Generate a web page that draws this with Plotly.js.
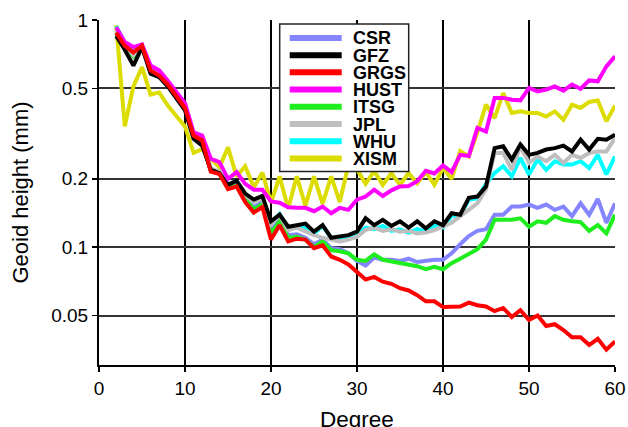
<!DOCTYPE html>
<html>
<head>
<meta charset="utf-8">
<script src="https://cdn.plot.ly/plotly-3.0.1.min.js"></script>
<style>html,body{margin:0;padding:0;background:#fff;}#chart{width:628px;height:427px;}</style>
</head>
<body>
<div id="chart"></div>
<script>
const degrees = [2,3,4,5,6,7,8,9,10,11,12,13,14,15,16,17,18,19,20,21,22,23,24,25,26,27,28,29,30,31,32,33,34,35,36,37,38,39,40,41,42,43,44,45,46,47,48,49,50,51,52,53,54,55,56,57,58,59,60];

const CSR  = [0.87,0.77,0.70,0.77,0.61,0.58,0.53,0.47,0.42,0.31,0.29,0.218,0.213,0.186,0.19,0.166,0.15,0.158,0.118,0.133,0.113,0.114,0.110,0.103,0.108,0.099,0.098,0.094,0.087,0.083,0.090,0.088,0.088,0.087,0.089,0.086,0.087,0.088,0.088,0.094,0.103,0.112,0.118,0.120,0.139,0.139,0.151,0.151,0.154,0.149,0.154,0.146,0.151,0.137,0.156,0.139,0.163,0.128,0.156];
const GFZ  = [0.85,0.74,0.63,0.76,0.58,0.56,0.51,0.455,0.40,0.30,0.28,0.219,0.212,0.188,0.196,0.172,0.162,0.168,0.130,0.139,0.123,0.125,0.127,0.117,0.125,0.110,0.111,0.113,0.117,0.134,0.125,0.132,0.124,0.130,0.122,0.130,0.121,0.130,0.125,0.141,0.139,0.165,0.167,0.185,0.273,0.278,0.243,0.283,0.255,0.26,0.269,0.273,0.28,0.264,0.297,0.269,0.30,0.297,0.313];
const GRGS = [0.88,0.77,0.72,0.77,0.60,0.57,0.52,0.46,0.41,0.31,0.295,0.215,0.21,0.18,0.185,0.158,0.142,0.150,0.108,0.125,0.106,0.109,0.108,0.099,0.102,0.091,0.088,0.084,0.078,0.072,0.074,0.0705,0.069,0.066,0.0645,0.0615,0.0578,0.0578,0.0545,0.0548,0.0548,0.057,0.0555,0.0548,0.0523,0.054,0.0493,0.0528,0.0478,0.050,0.045,0.0458,0.0432,0.0401,0.0401,0.0371,0.0395,0.0354,0.0385];
const HUST = [0.93,0.80,0.76,0.78,0.63,0.60,0.54,0.48,0.43,0.32,0.31,0.245,0.237,0.20,0.214,0.19,0.179,0.179,0.159,0.157,0.150,0.149,0.149,0.144,0.151,0.141,0.149,0.146,0.162,0.167,0.179,0.168,0.178,0.185,0.186,0.195,0.217,0.211,0.229,0.214,0.255,0.252,0.335,0.323,0.454,0.454,0.446,0.443,0.502,0.485,0.494,0.51,0.489,0.52,0.498,0.542,0.537,0.625,0.692];
const ITSG = [0.87,0.76,0.69,0.76,0.61,0.575,0.525,0.465,0.415,0.305,0.29,0.216,0.211,0.183,0.189,0.163,0.147,0.155,0.115,0.130,0.110,0.111,0.108,0.100,0.106,0.097,0.096,0.094,0.088,0.087,0.093,0.088,0.0866,0.085,0.0845,0.0825,0.080,0.082,0.080,0.085,0.089,0.093,0.098,0.108,0.132,0.132,0.132,0.134,0.123,0.130,0.128,0.137,0.132,0.130,0.129,0.118,0.125,0.115,0.139];
const JPL  = [0.90,0.78,0.70,0.77,0.61,0.58,0.53,0.47,0.415,0.31,0.29,0.222,0.215,0.19,0.195,0.17,0.158,0.163,0.126,0.138,0.119,0.122,0.117,0.113,0.110,0.108,0.106,0.108,0.111,0.119,0.122,0.118,0.120,0.117,0.118,0.115,0.116,0.119,0.123,0.128,0.137,0.146,0.156,0.180,0.26,0.26,0.219,0.278,0.235,0.251,0.239,0.255,0.235,0.255,0.247,0.26,0.264,0.264,0.302];
const WHU  = [0.94,0.79,0.72,0.77,0.61,0.58,0.53,0.47,0.42,0.31,0.29,0.22,0.214,0.19,0.195,0.17,0.16,0.166,0.128,0.140,0.121,0.124,0.122,0.115,0.124,0.110,0.109,0.110,0.113,0.122,0.120,0.124,0.118,0.120,0.116,0.120,0.117,0.124,0.122,0.137,0.138,0.162,0.164,0.19,0.212,0.227,0.205,0.247,0.209,0.243,0.219,0.239,0.231,0.231,0.239,0.223,0.255,0.209,0.251];
const XISM = [0.95,0.34,0.51,0.62,0.47,0.48,0.42,0.38,0.34,0.26,0.27,0.245,0.225,0.275,0.205,0.227,0.183,0.213,0.157,0.205,0.148,0.205,0.152,0.205,0.155,0.205,0.158,0.23,0.22,0.19,0.216,0.188,0.212,0.188,0.212,0.191,0.214,0.188,0.223,0.20,0.265,0.251,0.32,0.424,0.370,0.477,0.39,0.396,0.39,0.39,0.376,0.396,0.364,0.424,0.41,0.436,0.442,0.358,0.42];

const seriesNames  = ["CSR","GFZ","GRGS","HUST","ITSG","JPL","WHU","XISM"];
const seriesValues = {CSR, GFZ, GRGS, HUST, ITSG, JPL, WHU, XISM};
const seriesColors = {CSR:"#8585ff", GFZ:"#000000", GRGS:"#ff0000", HUST:"#ff00ff", ITSG:"#1eee1e", JPL:"#bebebe", WHU:"#00ffff", XISM:"#dcdc00"};
const drawOrder = ["XISM","CSR","ITSG","WHU","JPL","GFZ","HUST","GRGS"];

const xTicks = [0,10,20,30,40,50,60];
const yTicks = [0.05,0.1,0.2,0.5,1];
const yTickText = ["0.05","0.1","0.2","0.5","1"];
const xTitle = "Degree";
const yTitle = "Geoid height (mm)";

const traces = drawOrder.map(n => ({
  type: "scatter", mode: "lines", name: n,
  x: degrees, y: seriesValues[n],
  line: {color: seriesColors[n], width: 4},
  showlegend: false, hoverinfo: "skip"
}));

// manual legend (box, line samples, labels), in paper coordinates
const plotL = 99.3, plotR = 615.3, plotT = 20.4, plotB = 365;
const px = v => (v - plotL) / (plotR - plotL);
const py = v => (plotB - v) / (plotB - plotT);
const shapes = [{type:"rect", xref:"paper", yref:"paper", x0:px(280), x1:px(409), y0:py(171.7), y1:py(24.3),
  line:{color:"#222", width:1.5}, fillcolor:"#ffffff", layer:"above"}];
const annotations = [];
seriesNames.forEach((n,i) => {
  const yy = 38.3 + 17.2*i;
  shapes.push({type:"line", xref:"paper", yref:"paper", x0:px(290), x1:px(342), y0:py(yy), y1:py(yy),
    line:{color:seriesColors[n], width:6}, layer:"above"});
  annotations.push({xref:"paper", yref:"paper", x:px(351), y:py(yy+0.5), xanchor:"left", yanchor:"middle",
    height:16, valign:"middle",
    text:"<b>"+n+"</b>", showarrow:false, font:{family:"Liberation Sans, Arial, sans-serif", size:18, color:"#000"}});
});
// x-axis title placed like the reference (its lower edge touches the canvas edge)
annotations.push({xref:"paper", yref:"paper", x:0.5, y:py(405), xanchor:"center", yanchor:"top",
  text:xTitle, showarrow:false, font:{family:"Liberation Sans, Arial, sans-serif", size:22.5, color:"#000"}});

const layout = {
  width: 628, height: 427,
  margin: {l: 99.3, r: 12.7, t: 20.4, b: 62},
  paper_bgcolor: "#fff", plot_bgcolor: "#fff",
  font: {family: "Liberation Sans, Arial, sans-serif", color: "#000", size: 19},
  showlegend: false,
  xaxis: {
    range: [0, 60], tickvals: xTicks, ticks: "outside", ticklen: 5, tickwidth: 1.5, tickcolor: "#000",
    showgrid: true, gridcolor: "#000", gridwidth: 1.2, zeroline: false,
    showline: true, linecolor: "#000", linewidth: 2,
    tickfont: {size: 19}
  },
  yaxis: {
    type: "log", range: [Math.log10(0.0303), 0], tickvals: yTicks, ticktext: yTickText,
    ticks: "outside", ticklen: 5, tickwidth: 1.5, tickcolor: "#000",
    showgrid: true, gridcolor: "#333", gridwidth: 2, zeroline: false,
    showline: true, linecolor: "#000", linewidth: 2,
    tickfont: {size: 19},
    title: {text: yTitle, font: {size: 22}, standoff: 17}
  },
  shapes, annotations
};

Plotly.newPlot("chart", traces, layout, {staticPlot: true, displayModeBar: false});
</script>
</body>
</html>
